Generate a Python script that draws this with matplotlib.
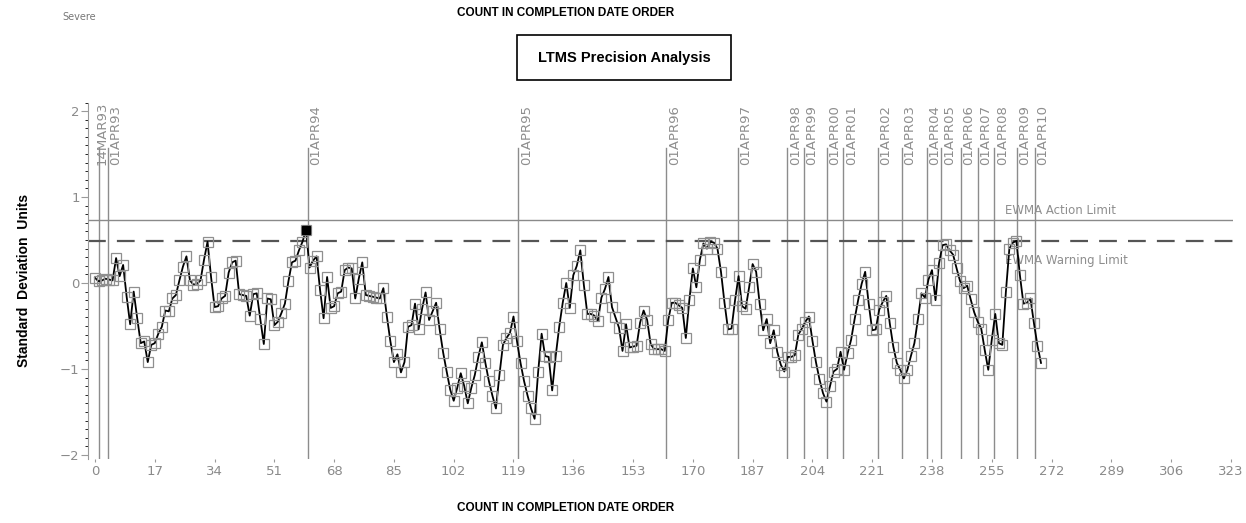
import matplotlib
matplotlib.use('Agg')
import matplotlib.pyplot as plt
from matplotlib.patches import Rectangle
from matplotlib.ticker import MultipleLocator

# EWMA of standardised results, one value per test in completion date order
ewma = [
    0.06, 0.02, 0.03, 0.05, 0.04, 0.03, 0.29, 0.08, 0.21, -0.16,
    -0.48, -0.10, -0.41, -0.70, -0.68, -0.92, -0.72, -0.70, -0.59, -0.51,
    -0.32, -0.33, -0.18, -0.14, 0.03, 0.19, 0.31, 0.03, -0.02, -0.01,
    0.03, 0.27, 0.48, 0.07, -0.28, -0.27, -0.18, -0.15, 0.12, 0.24,
    0.26, -0.13, -0.14, -0.15, -0.38, -0.13, -0.12, -0.42, -0.71, -0.18,
    -0.19, -0.49, -0.45, -0.35, -0.24, 0.02, 0.24, 0.26, 0.38, 0.48,
    0.62, 0.18, 0.26, 0.31, -0.08, -0.41, 0.07, -0.29, -0.27, -0.12,
    -0.10, 0.15, 0.18, 0.17, -0.18, 0.05, 0.24, -0.14, -0.15, -0.16,
    -0.17, -0.18, -0.06, -0.39, -0.68, -0.92, -0.83, -1.04, -0.92, -0.51,
    -0.49, -0.24, -0.54, -0.30, -0.11, -0.43, -0.33, -0.23, -0.54, -0.81,
    -1.03, -1.24, -1.37, -1.22, -1.05, -1.20, -1.40, -1.22, -1.07, -0.86,
    -0.69, -0.93, -1.14, -1.31, -1.46, -1.07, -0.72, -0.64, -0.58, -0.39,
    -0.68, -0.93, -1.14, -1.31, -1.46, -1.58, -1.04, -0.59, -0.85, -0.86,
    -1.25, -0.85, -0.51, -0.23, 0.00, -0.29, 0.09, 0.20, 0.38, -0.02,
    -0.36, -0.36, -0.38, -0.44, -0.17, -0.07, 0.07, -0.28, -0.40, -0.52,
    -0.79, -0.48, -0.75, -0.74, -0.73, -0.46, -0.32, -0.43, -0.71, -0.77,
    -0.77, -0.77, -0.79, -0.43, -0.23, -0.23, -0.26, -0.29, -0.64, -0.20,
    0.17, -0.05, 0.27, 0.46, 0.40, 0.48, 0.47, 0.40, 0.13, -0.23,
    -0.54, -0.53, -0.20, 0.08, -0.27, -0.30, -0.05, 0.22, 0.13, -0.24,
    -0.55, -0.42, -0.70, -0.55, -0.80, -0.95, -1.03, -0.86, -0.86, -0.84,
    -0.60, -0.53, -0.45, -0.39, -0.67, -0.92, -1.12, -1.28, -1.38, -1.20,
    -1.03, -1.00, -0.80, -1.01, -0.82, -0.66, -0.42, -0.20, -0.01, 0.13,
    -0.24, -0.55, -0.54, -0.31, -0.22, -0.15, -0.47, -0.74, -0.93, -1.01,
    -1.11, -1.01, -0.85, -0.70, -0.42, -0.12, -0.17, 0.04, 0.15, -0.20,
    0.23, 0.44, 0.45, 0.38, 0.33, 0.17, 0.02, -0.06, -0.03, -0.19,
    -0.34, -0.45, -0.53, -0.78, -1.01, -0.66, -0.36, -0.70, -0.72, -0.11,
    0.40, 0.47, 0.49, 0.09, -0.24, -0.23, -0.18, -0.47, -0.73, -0.93,
]
counts = list(range(len(ewma)))
flagged = [60]  # point beyond the warning limit

# reference dates and where they fall in the count
date_labels = ['14MAR93', '01APR93', '01APR94', '01APR95', '01APR96', '01APR97',
               '01APR98', '01APR99', '01APR00', '01APR01', '01APR02', '01APR03',
               '01APR04', '01APR05', '01APR06', '01APR07', '01APR08', '01APR09',
               '01APR10']
date_counts = [1.05, 3.7, 60.5, 120.4, 162.5, 182.9, 196.9, 201.6, 208.2, 212.8,
               222.7, 229.4, 236.5, 240.7, 246.2, 251.0, 255.7, 262.2, 267.3]

action_limit = 0.733
warning_limit = 0.49

x_ticks = list(range(0, 324, 17))
y_ticks = [-2, -1, 0, 1, 2]

narrow = ['Liberation Sans Narrow', 'Liberation Sans', 'DejaVu Sans']
grey = '#8a8a8a'

fig = plt.figure(figsize=(12.46, 5.23), dpi=100)
ax = fig.add_axes([0.0706, 0.122, 0.9187, 0.682])

ax.set_xlim(-2, 323.5)
ax.set_ylim(-2.05, 2.1)

# date reference lines with their labels on top
for i, (xc, lab) in enumerate(zip(date_counts, date_labels)):
    ax.plot([xc, xc], [-2.05, 1.57], color='#8c8c8c', lw=1.0, zorder=1)
    shift = -0.8 if i == 0 else 0.4
    ax.text(xc + shift, 1.37, lab, rotation=90, ha='left', va='bottom',
            fontsize=9.5, color='#8e8e8e', zorder=3)

# control limits
ax.axhline(action_limit, color='#8a8a8a', lw=1.0, zorder=1)
ax.axhline(warning_limit, color='#555555', lw=1.6, dashes=(8, 5), zorder=1)
ax.text(258.7, action_limit + 0.07, 'EWMA Action Limit', fontsize=8.5, color='#8e8e8e')
ax.text(258.7, warning_limit - 0.27, 'EWMA Warning Limit', fontsize=8.5, color='#8e8e8e')

ax.plot(counts, ewma, color='black', lw=1.3, zorder=4)
ax.plot(counts, ewma, ls='none', marker='s', ms=6.5, mfc='none',
        mec='#8f8f8f', mew=0.9, zorder=5)
ax.plot([counts[i] for i in flagged], [ewma[i] for i in flagged], ls='none',
        marker='s', ms=5.5, color='black', zorder=6)

ax.set_xticks(x_ticks)
ax.set_yticks(y_ticks)
ax.yaxis.set_minor_locator(MultipleLocator(0.1))
ax.tick_params(axis='both', colors='#9a9a9a', labelcolor=grey, labelsize=9.5)
ax.tick_params(axis='x', length=2, pad=2)
ax.tick_params(axis='y', which='major', length=5, pad=1)
ax.tick_params(axis='y', which='minor', length=2.5)
for side in ['top', 'right', 'bottom']:
    ax.spines[side].set_visible(False)
ax.spines['left'].set_color('#9a9a9a')

ax.set_ylabel('Standard  Deviation  Units', fontsize=10, fontweight='bold',
              family=narrow)
ax.yaxis.set_label_coords(-0.05, 0.5)

# headings
fig.text(0.454, 0.975, 'COUNT IN COMPLETION DATE ORDER', ha='center', va='center',
         fontsize=8.5, fontweight='bold', family=narrow)
fig.text(0.454, 0.028, 'COUNT IN COMPLETION DATE ORDER', ha='center', va='center',
         fontsize=8.5, fontweight='bold', family=narrow)
fig.text(0.05, 0.967, 'Severe', ha='left', va='center', fontsize=7, color='#777777')
fig.patches.append(Rectangle((517 / 1246, 1 - 80 / 523), 214 / 1246, 45 / 523,
                             transform=fig.transFigure, fill=False,
                             edgecolor='black', lw=1.2))
fig.text(624 / 1246, 1 - 58 / 523, 'LTMS Precision Analysis', ha='center',
         va='center', fontsize=10.5, fontweight='bold', family=narrow)

fig.savefig('out.png', dpi=100)
